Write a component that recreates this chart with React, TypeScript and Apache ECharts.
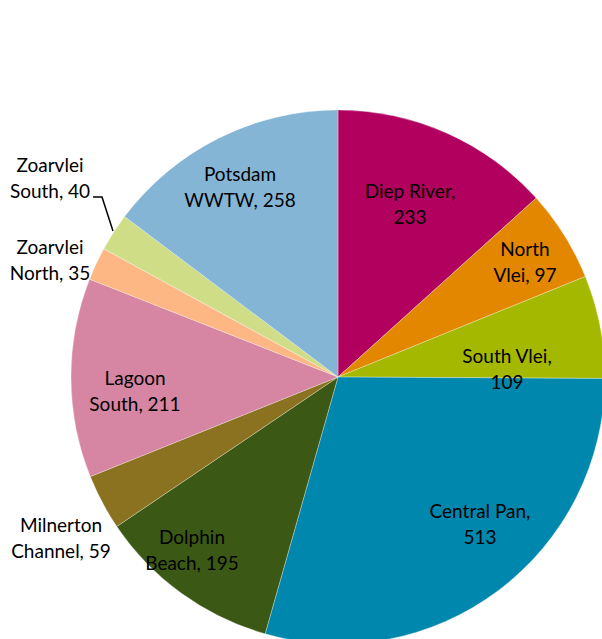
import React, { useEffect, useRef } from "react";
import * as echarts from "echarts";

const categories = [
  "Diep River",
  "North Vlei",
  "South Vlei",
  "Central Pan",
  "Dolphin Beach",
  "Milnerton Channel",
  "Lagoon South",
  "Zoarvlei North",
  "Zoarvlei South",
  "Potsdam WWTW",
];
const values = [233, 97, 109, 513, 195, 59, 211, 35, 40, 258];
const labelTexts = [
  "Diep River,\n233",
  "North\nVlei, 97",
  "South Vlei,\n109",
  "Central Pan,\n513",
  "Dolphin\nBeach, 195",
  "Milnerton\nChannel, 59",
  "Lagoon\nSouth, 211",
  "Zoarvlei\nNorth, 35",
  "Zoarvlei\nSouth, 40",
  "Potsdam\nWWTW, 258",
];

const colors = [
  "#B1005D",
  "#E38700",
  "#A5B800",
  "#0087AE",
  "#3B5914",
  "#8A7220",
  "#D685A2",
  "#FCB785",
  "#CFDD87",
  "#84B5D5",
];

// label anchor positions (layout only)
const labelPos: [number, number][] = [
  [410, 203],
  [525, 261],
  [507, 368],
  [480, 523],
  [192, 549],
  [61, 537],
  [135, 390],
  [50, 259],
  [50, 177],
  [240, 186],
];

export default function App() {
  const ref = useRef<HTMLDivElement>(null);
  useEffect(() => {
    if (!ref.current) return;
    const chart = echarts.init(ref.current, null, { renderer: "svg" });
    chart.setOption({
      animation: false,
      backgroundColor: "#ffffff",
      series: [
        {
          type: "pie",
          center: [338, 377],
          radius: 267,
          startAngle: 90,
          clockwise: true,
          avoidLabelOverlap: false,
          itemStyle: { borderColor: "rgba(255,255,255,0.6)", borderWidth: 0.5 },
          label: {
            show: true,
            position: "outside",
            color: "#000000",
            fontFamily: "Lato",
            fontSize: 19,
            lineHeight: 26,
            align: "center",
            formatter: (p: any) => labelTexts[p.dataIndex],
          },
          labelLine: { show: false },
          labelLayout: (p: any) => {
            const [x, y] = labelPos[p.dataIndex];
            const res: any = { x, y, align: "center", verticalAlign: "middle" };
            if (p.dataIndex === 8) {
              res.labelLinePoints = [
                [113, 231],
                [102, 197],
                [93, 197],
              ];
            }
            return res;
          },
          data: categories.map((name, i) => ({
            name,
            value: values[i],
            itemStyle: { color: colors[i] },
            labelLine:
              i === 8
                ? { show: true, length: 10, length2: 10, lineStyle: { color: "#000", width: 1.5 } }
                : { show: false },
          })),
        },
      ],
    });
    return () => chart.dispose();
  }, []);
  return (
    <div
      ref={ref}
      style={{ position: "absolute", left: 0, top: 0, width: 602, height: 639 }}
    />
  );
}
